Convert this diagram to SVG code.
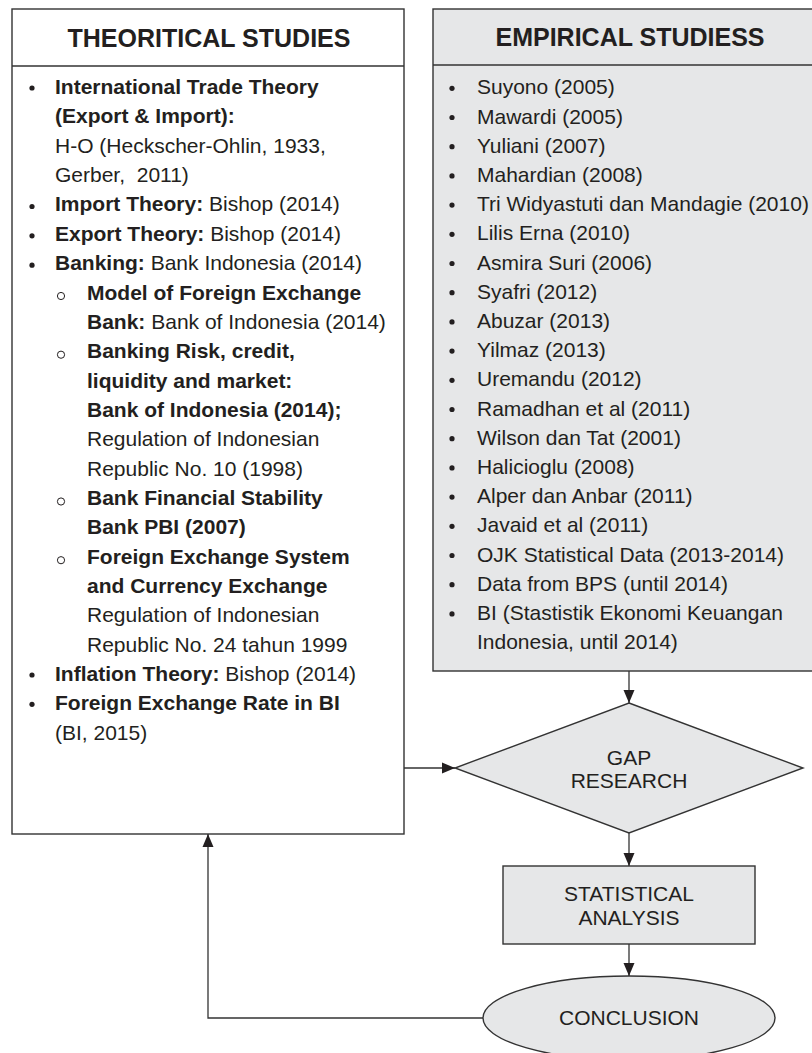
<svg xmlns="http://www.w3.org/2000/svg" width="812" height="1053" viewBox="0 0 812 1053">
<defs>
<style>
.t{font-family:"Liberation Sans",Arial,sans-serif;font-size:21px;fill:#231f20;white-space:pre}
.b{font-weight:bold}
.h{font-family:"Liberation Sans",Arial,sans-serif;font-size:25px;font-weight:bold;fill:#231f20;text-anchor:middle}
.c{font-family:"Liberation Sans",Arial,sans-serif;font-size:21px;fill:#231f20;text-anchor:middle}
.box{stroke:#333;stroke-width:1.4}
.ln{stroke:#333;stroke-width:1.3;fill:none}
.dot{fill:#231f20}
.ring{fill:none;stroke:#231f20;stroke-width:1}
</style>
<marker id="ah" markerUnits="userSpaceOnUse" markerWidth="14" markerHeight="14" viewBox="0 0 14 14" refX="13" refY="7" orient="auto">
<path d="M0,1.5 L13,7 L0,12.5 Z" fill="#231f20"/>
</marker>
</defs>
<rect width="812" height="1053" fill="#fff"/>

<g id="theoretical">
<rect class="box" x="12" y="9" width="392" height="825" fill="#fff"/>
<line class="box" x1="12" y1="66" x2="404" y2="66"/>
<text class="h" x="209" y="47">THEORITICAL STUDIES</text>
<g>
<circle class="dot" cx="32" cy="88" r="2.6"/>
<circle class="dot" cx="32" cy="206.5" r="2.6"/>
<circle class="dot" cx="32" cy="235.8" r="2.6"/>
<circle class="dot" cx="32" cy="265.2" r="2.6"/>
<circle class="ring" cx="61" cy="296" r="3.6"/>
<circle class="ring" cx="61" cy="354.7" r="3.6"/>
<circle class="ring" cx="61" cy="501.5" r="3.6"/>
<circle class="ring" cx="61" cy="560.2" r="3.6"/>
<circle class="dot" cx="32" cy="675" r="2.6"/>
<circle class="dot" cx="32" cy="704.3" r="2.6"/>
</g>
<text class="t b" x="55" y="94">International Trade Theory</text>
<text class="t b" x="55" y="123.4">(Export &amp; Import):</text>
<text class="t" x="55" y="152.7">H-O (Heckscher-Ohlin, 1933,</text>
<text class="t" x="55" y="182">Gerber,  2011)</text>
<text class="t" x="55" y="211.4"><tspan class="b">Import Theory:</tspan> Bishop (2014)</text>
<text class="t" x="55" y="240.8"><tspan class="b">Export Theory:</tspan> Bishop (2014)</text>
<text class="t" x="55" y="270.1"><tspan class="b">Banking:</tspan> Bank Indonesia (2014)</text>
<text class="t b" x="87" y="299.5">Model of Foreign Exchange</text>
<text class="t" x="87" y="328.8"><tspan class="b">Bank:</tspan> Bank of Indonesia (2014)</text>
<text class="t b" x="87" y="358.2">Banking Risk, credit,</text>
<text class="t b" x="87" y="387.5">liquidity and market:</text>
<text class="t b" x="87" y="416.9">Bank of Indonesia (2014);</text>
<text class="t" x="87" y="446.2">Regulation of Indonesian</text>
<text class="t" x="87" y="475.6">Republic No. 10 (1998)</text>
<text class="t b" x="87" y="505">Bank Financial Stability</text>
<text class="t b" x="87" y="534.3">Bank PBI (2007)</text>
<text class="t b" x="87" y="563.7">Foreign Exchange System</text>
<text class="t b" x="87" y="593">and Currency Exchange</text>
<text class="t" x="87" y="622.4">Regulation of Indonesian</text>
<text class="t" x="87" y="651.7">Republic No. 24 tahun 1999</text>
<text class="t" x="55" y="681"><tspan class="b">Inflation Theory:</tspan> Bishop (2014)</text>
<text class="t b" x="55" y="710.4">Foreign Exchange Rate in BI</text>
<text class="t" x="55" y="739.7">(BI, 2015)</text>
</g>

<g id="empirical">
<rect class="box" x="433" y="9" width="400" height="662" fill="#e6e7e8"/>
<line class="box" x1="433" y1="65" x2="812" y2="65"/>
<text class="h" x="630" y="46">EMPIRICAL STUDIESS</text>
<g>
<circle class="dot" cx="452" cy="88.3" r="2.6"/>
<circle class="dot" cx="452" cy="117.5" r="2.6"/>
<circle class="dot" cx="452" cy="146.7" r="2.6"/>
<circle class="dot" cx="452" cy="175.9" r="2.6"/>
<circle class="dot" cx="452" cy="205.1" r="2.6"/>
<circle class="dot" cx="452" cy="234.3" r="2.6"/>
<circle class="dot" cx="452" cy="263.5" r="2.6"/>
<circle class="dot" cx="452" cy="292.7" r="2.6"/>
<circle class="dot" cx="452" cy="321.9" r="2.6"/>
<circle class="dot" cx="452" cy="351.1" r="2.6"/>
<circle class="dot" cx="452" cy="380.3" r="2.6"/>
<circle class="dot" cx="452" cy="409.5" r="2.6"/>
<circle class="dot" cx="452" cy="438.7" r="2.6"/>
<circle class="dot" cx="452" cy="467.9" r="2.6"/>
<circle class="dot" cx="452" cy="497.1" r="2.6"/>
<circle class="dot" cx="452" cy="526.3" r="2.6"/>
<circle class="dot" cx="452" cy="555.5" r="2.6"/>
<circle class="dot" cx="452" cy="584.7" r="2.6"/>
<circle class="dot" cx="452" cy="613.9" r="2.6"/>
</g>
<text class="t" x="477" y="94.3">Suyono (2005)</text>
<text class="t" x="477" y="123.5">Mawardi (2005)</text>
<text class="t" x="477" y="152.7">Yuliani (2007)</text>
<text class="t" x="477" y="181.9">Mahardian (2008)</text>
<text class="t" x="477" y="211.1">Tri Widyastuti dan Mandagie (2010)</text>
<text class="t" x="477" y="240.3">Lilis Erna (2010)</text>
<text class="t" x="477" y="269.5">Asmira Suri (2006)</text>
<text class="t" x="477" y="298.7">Syafri (2012)</text>
<text class="t" x="477" y="327.9">Abuzar (2013)</text>
<text class="t" x="477" y="357.1">Yilmaz (2013)</text>
<text class="t" x="477" y="386.3">Uremandu (2012)</text>
<text class="t" x="477" y="415.5">Ramadhan et al (2011)</text>
<text class="t" x="477" y="444.7">Wilson dan Tat (2001)</text>
<text class="t" x="477" y="473.9">Halicioglu (2008)</text>
<text class="t" x="477" y="503.1">Alper dan Anbar (2011)</text>
<text class="t" x="477" y="532.3">Javaid et al (2011)</text>
<text class="t" x="477" y="561.5">OJK Statistical Data (2013-2014)</text>
<text class="t" x="477" y="590.7">Data from BPS (until 2014)</text>
<text class="t" x="477" y="619.9">BI (Stastistik Ekonomi Keuangan</text>
<text class="t" x="477" y="649.1">Indonesia, until 2014)</text>
</g>

<g id="gap">
<polygon class="box" points="629,703 803,768 629,833 455,768" fill="#e6e7e8"/>
<text class="c" x="629" y="765">GAP</text>
<text class="c" x="629" y="788">RESEARCH</text>
</g>

<g id="statistical">
<rect class="box" x="503" y="866" width="252" height="78" fill="#e6e7e8"/>
<text class="c" x="629" y="901">STATISTICAL</text>
<text class="c" x="629" y="925">ANALYSIS</text>
</g>

<g id="conclusion">
<ellipse class="box" cx="629" cy="1018" rx="146" ry="42" fill="#e6e7e8"/>
<text class="c" x="629" y="1025">CONCLUSION</text>
</g>

<g id="connectors">
<line class="ln" x1="629" y1="671" x2="629" y2="703" marker-end="url(#ah)"/>
<line class="ln" x1="404" y1="768" x2="455" y2="768" marker-end="url(#ah)"/>
<line class="ln" x1="629" y1="833" x2="629" y2="866" marker-end="url(#ah)"/>
<line class="ln" x1="629" y1="944" x2="629" y2="976" marker-end="url(#ah)"/>
<polyline class="ln" points="483,1018 208,1018 208,834" marker-end="url(#ah)"/>
</g>
</svg>
